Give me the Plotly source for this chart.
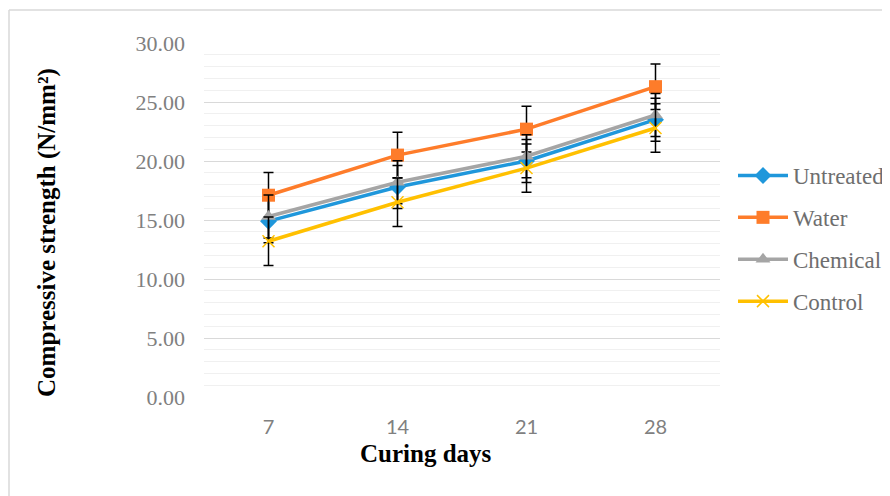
import plotly.graph_objects as go

days = ["7", "14", "21", "28"]
untreated = [14.9, 17.8, 20.0, 23.5]
water = [17.1, 20.5, 22.7, 26.3]
chemical = [15.3, 18.2, 20.4, 23.9]
control = [13.2, 16.5, 19.4, 22.8]
err_untreated = [1.82, 1.82, 1.82, 1.82]
err_water = [1.93, 1.93, 1.93, 1.93]
err_chemical = [1.82, 1.82, 1.82, 1.82]
err_control = [2.05, 2.05, 2.05, 2.05]
y_ticks = [0, 5, 10, 15, 20, 25, 30]

series = [
    ("Untreated", untreated, err_untreated, "#1F97DB", "diamond", 13),
    ("Water", water, err_water, "#FE7C2A", "square", 13),
    ("Chemical", chemical, err_chemical, "#A5A5A5", "triangle-up", 13),
    ("Control", control, err_control, "#FFC000", "x-thin", 12),
]

fig = go.Figure()
for name, vals, errs, col, sym, sz in series:
    marker = dict(symbol=sym, size=sz, color=col)
    if sym == "x-thin":
        marker["line"] = dict(color=col, width=1.5)
    fig.add_trace(go.Scatter(
        x=days, y=vals, name=name, mode="lines+markers",
        line=dict(color=col, width=3.5),
        marker=marker,
        legendgroup=name,
        error_y=dict(type="data", array=errs, visible=True,
                     color="black", thickness=1.5, width=5),
    ))

# page body has an 8px margin; absolute window positions below
OFF = 8
L, R, T, B = 196, 170, 35, 99
W, H = 882, 488
pw, ph = W - L - R, H - T - B

def px(x):
    return (x - OFF - L) / pw

def py(y):
    return (OFF + T + ph - y) / ph

fig.update_layout(
    width=W, height=H,
    margin=dict(l=L, r=R, t=T, b=B, autoexpand=False),
    paper_bgcolor="white", plot_bgcolor="white",
    showlegend=True,
    legend=dict(x=px(733), y=py(154), xanchor="left", yanchor="top",
                font=dict(family="Liberation Serif", size=23, color="#6E6E6E"),
                tracegroupgap=9, traceorder="grouped", itemwidth=50,
                bgcolor="rgba(0,0,0,0)"),
    xaxis=dict(type="category", range=[-0.5, 3.5], showgrid=False,
               showline=False, zeroline=False, ticks="",
               tickfont=dict(family="Lato", size=20, color="#808080"),
               ticklabelstandoff=16),
    yaxis=dict(range=[0, 30], tickvals=y_ticks, tickformat=".2f",
               showgrid=True, gridcolor="#D9D9D9", gridwidth=1,
               zeroline=False, showline=False, ticks="",
               tickfont=dict(family="Liberation Serif", size=22, color="#808080"),
               ticklabelstandoff=18,
               minor=dict(dtick=1, showgrid=True, gridcolor="#F0F0F0", gridwidth=1)),
    annotations=[
        dict(text="<b>Compressive strength (N/mm²)</b>", x=px(47), y=py(233),
             xref="paper", yref="paper", showarrow=False, textangle=-90,
             xanchor="center", yanchor="middle",
             font=dict(family="Liberation Serif", size=25, color="black")),
        dict(text="<b>Curing days</b>", x=px(426), y=py(453),
             xref="paper", yref="paper", showarrow=False,
             xanchor="center", yanchor="middle",
             font=dict(family="Liberation Serif", size=25, color="black")),
    ],
    shapes=[
        dict(type="line", xref="paper", yref="paper", x0=px(9), x1=px(890),
             y0=py(10), y1=py(10), line=dict(color="#D9D9D9", width=1.5)),
        dict(type="line", xref="paper", yref="paper", x0=px(9), x1=px(9),
             y0=py(10), y1=py(496), line=dict(color="#D9D9D9", width=1.5)),
    ],
)

fig.write_html("out.html")
